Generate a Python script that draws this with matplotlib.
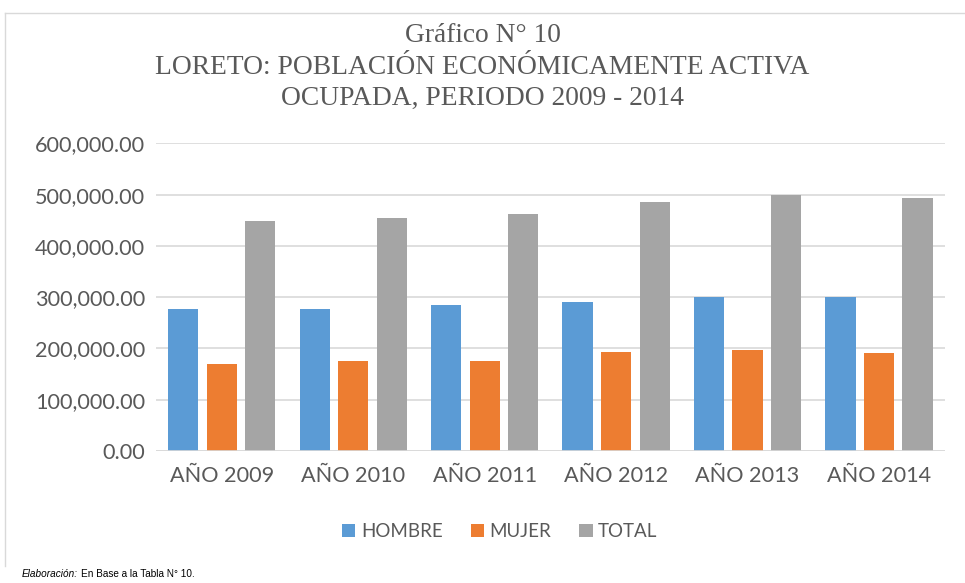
import matplotlib.pyplot as plt
import numpy as np
from matplotlib.lines import Line2D

categorias = ["AÑO 2009", "AÑO 2010", "AÑO 2011", "AÑO 2012", "AÑO 2013", "AÑO 2014"]
hombre = [276500, 277200, 285000, 290800, 300600, 300600]
mujer = [170500, 176300, 176300, 193200, 197100, 191900]
total = [448300, 455400, 461900, 485400, 499700, 493200]
yticks = [0, 100000, 200000, 300000, 400000, 500000, 600000]

fig = plt.figure(figsize=(9.65, 5.83), dpi=100)
ax = fig.add_axes([0.1617, 0.2264, 0.8173, 0.5275])

x = np.arange(len(categorias))
w = 0.23
paso = 0.293
ax.bar(x - paso, hombre, w, color="#5B9BD5", label="HOMBRE", zorder=3)
ax.bar(x, mujer, w, color="#ED7D31", label="MUJER", zorder=3)
ax.bar(x + paso, total, w, color="#A5A5A5", label="TOTAL", zorder=3)

ax.set_xlim(-0.5, len(categorias) - 0.5)
ax.set_ylim(0, 600000)
ax.set_yticks(yticks)
ax.set_yticklabels([f"{v:,.2f}" for v in yticks])
ax.set_xticks(x)
ax.set_xticklabels(categorias)
ax.yaxis.grid(True, color="#D9D9D9", linewidth=1.2, zorder=0)
for s in ax.spines.values():
    s.set_visible(False)
ax.axhline(0, color="#D9D9D9", linewidth=1.2, zorder=4)
ax.tick_params(axis="both", length=0, labelsize=15.6, labelcolor="#595959")
ax.tick_params(axis="y", pad=8)
ax.tick_params(axis="x", pad=11)
for t in ax.get_xticklabels() + ax.get_yticklabels():
    t.set_family("Lato")

# titulo
titulo = ["Gráfico N° 10", "LORETO: POBLACIÓN ECONÓMICAMENTE ACTIVA", "OCUPADA, PERIODO 2009 - 2014"]
for i, linea in enumerate(titulo):
    fig.text(0.5, 1 - (36 + 31 * i) / 583, linea, ha="center", va="center",
             family="Liberation Serif", fontsize=19.8, color="#595959")

# leyenda
leg = ax.legend(loc="upper center", bbox_to_anchor=(0.436, -0.18), ncol=3, frameon=False,
                prop={"family": "Lato", "size": 13.5}, handlelength=0.7, handleheight=0.7,
                handletextpad=0.3, columnspacing=1.5)
for t in leg.get_texts():
    t.set_color("#595959")

# marco del grafico
fig.add_artist(Line2D([5 / 965, 1], [1 - 13 / 583] * 2, color="#D9D9D9", linewidth=1))
fig.add_artist(Line2D([5 / 965] * 2, [1 - 13 / 583, 0.03], color="#D9D9D9", linewidth=1))

# pie
t1 = fig.text(22 / 965, 1 - 574 / 583, "Elaboración:", family="Liberation Sans",
              style="italic", fontsize=7.2, va="center")
fig.canvas.draw()
bb = t1.get_window_extent()
fig.text(bb.x1 / fig.bbox.width + 0.003, 1 - 574 / 583, "En Base a la Tabla N° 10.",
         family="Liberation Sans", fontsize=7.2, va="center")

fig.savefig("out.png", dpi=100)
